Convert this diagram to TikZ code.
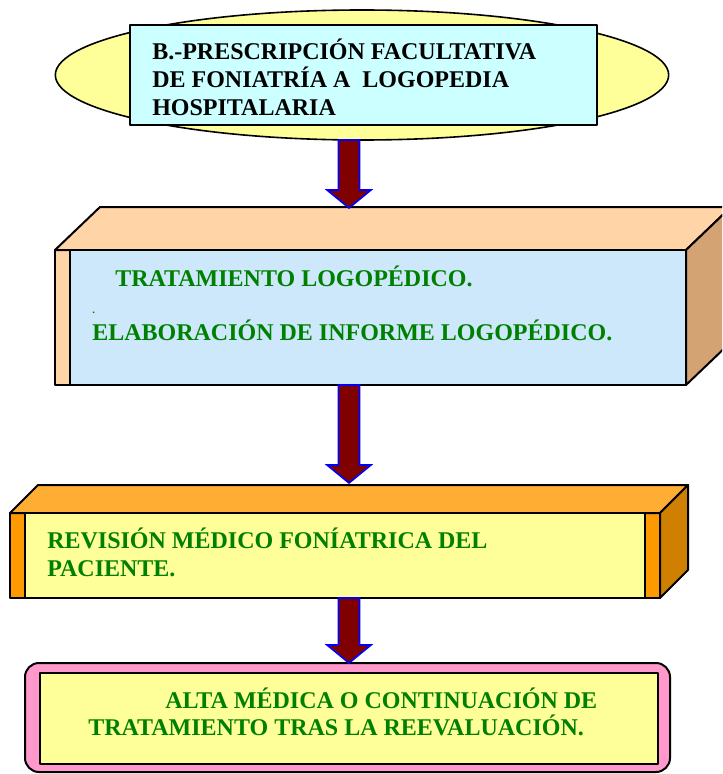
\documentclass[tikz,border=0pt]{standalone}
\usepackage{fontspec}
\setmainfont{Liberation Serif}
\usetikzlibrary{calc,shapes.geometric}

\definecolor{amarillo}{HTML}{FFFF99}
\definecolor{celeste}{HTML}{CCFFFF}
\definecolor{azulclaro}{HTML}{CCE8FA}
\definecolor{melocoton}{HTML}{FFD5A8}
\definecolor{tostado}{HTML}{D4A373}
\definecolor{naranja}{HTML}{FF9900}
\definecolor{naranjaclaro}{HTML}{FFAD33}
\definecolor{naranjaoscuro}{HTML}{D08000}
\definecolor{rosa}{HTML}{FF99CC}
\definecolor{granate}{HTML}{800000}
\definecolor{verde}{HTML}{008000}

\tikzset{
  caja/.style={draw=black, line width=1.5pt, line join=round, outer sep=0pt, inner sep=0pt},
  texto/.style={anchor=base west, inner sep=0pt, font=\bfseries\fontsize{18}{21}\selectfont},
  flechastyle/.style={fill=granate, draw=blue, line width=1.2pt, line join=miter},
}
\newcommand{\flecha}[2]{\draw[flechastyle] let \p1=(#1), \p2=(#2) in
  (\x1-7.9pt,\y1) -- (\x1+7.9pt,\y1) -- (\x1+7.9pt,\y2+13.5pt) -- (\x1+16.5pt,\y2+13.5pt)
  -- (\x1,\y2) -- (\x1-16.5pt,\y2+13.5pt) -- (\x1-7.9pt,\y2+13.5pt) -- cycle;}

\begin{document}
\begin{tikzpicture}[x=0.75pt,y=-0.75pt]
\clip (0,0) rectangle (722,774);
\fill[white] (0,0) rectangle (722,774);
\coordinate (eje) at (349,0);

% prescripcion
\node[ellipse, caja, line width=1.2pt, fill=amarillo, minimum width=460pt, minimum height=97.5pt] (elipse) at (362,75) {};
\node[caja, fill=celeste, minimum width=350.25pt, minimum height=75pt] (prescripcion) at (363.5,75) {};
\node[texto] (p1) at (152,60) {B.-PRESCRIPCIÓN FACULTATIVA};
\node[texto] (p2) at (152,88) {DE FONIATRÍA A\ \ LOGOPEDIA};
\node[texto] (p3) at (152,115) {HOSPITALARIA};

% tratamiento
\node[caja, fill=melocoton, minimum width=473.25pt, minimum height=101.25pt] (tratamiento) at (370.5,317.5) {};
\draw[caja, fill=melocoton] (tratamiento.north west) -- ++(45,-43) -- ++(631,0) -- (tratamiento.north east) -- cycle;
\draw[caja, fill=tostado] (tratamiento.north east) -- ++(45,-43) -- ++(0,135) -- (tratamiento.south east) -- cycle;
\draw[caja, fill=azulclaro] ($(tratamiento.north west)+(15,0)$) rectangle (tratamiento.south east);
\node[texto, text=verde] (t1) at (115,286) {TRATAMIENTO LOGOPÉDICO.};
\node[texto, text=verde, font=\bfseries\fontsize{8}{9}\selectfont] (t2) at (92,313) {.};
\node[texto, text=verde] (t3) at (92,340) {ELABORACIÓN DE INFORME LOGOPÉDICO.};

% revision
\node[caja, fill=naranja, minimum width=487.5pt, minimum height=63.75pt] (revision) at (335,555.5) {};
\draw[caja, fill=naranjaclaro] (revision.north west) -- ++(28,-28) -- ++(650,0) -- (revision.north east) -- cycle;
\draw[caja, fill=naranjaoscuro] (revision.north east) -- ++(28,-28) -- ++(0,85) -- (revision.south east) -- cycle;
\draw[caja, fill=amarillo] ($(revision.north west)+(15,0)$) rectangle ($(revision.south east)+(-15,0)$);
\node[texto, text=verde] (r1) at (47,548) {REVISIÓN MÉDICO FONÍATRICA DEL};
\node[texto, text=verde] (r2) at (47,576) {PACIENTE.};

% alta
\node[caja, rounded corners=10.5pt, fill=rosa, minimum width=483.75pt, minimum height=81.75pt] (alta) at (347.5,717.5) {};
\draw[caja, fill=amarillo] ($(alta.north west)+(15,10)$) rectangle ($(alta.south east)+(-12,-8)$);
\node[texto, text=verde] (a1) at (165,708) {ALTA MÉDICA O CONTINUACIÓN DE};
\node[texto, text=verde] (a2) at (88,735) {TRATAMIENTO TRAS LA REEVALUACIÓN.};

% flechas
\flecha{elipse.south -| eje}{$(tratamiento.north -| eje)+(0,-42)$}
\flecha{tratamiento.south -| eje}{$(revision.north -| eje)+(0,-30)$}
\flecha{revision.south -| eje}{alta.north -| eje}
\end{tikzpicture}
\end{document}
